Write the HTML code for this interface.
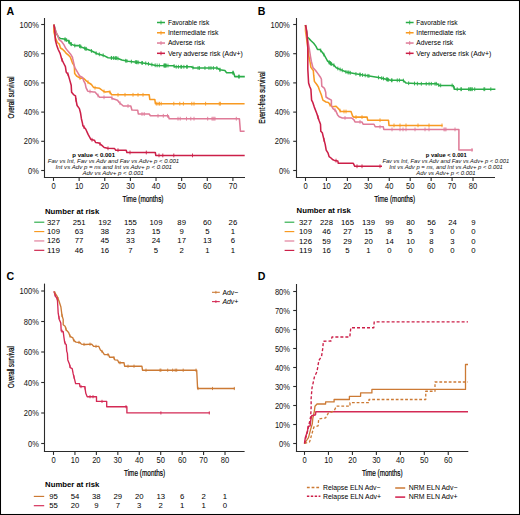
<!DOCTYPE html>
<html><head><meta charset="utf-8"><style>
html,body{margin:0;padding:0;background:#fff;}
svg{display:block;font-family:"Liberation Sans", sans-serif;}
</style></head><body>
<svg width="520" height="515" viewBox="0 0 520 515">
<rect x="0" y="0" width="520" height="515" fill="#fff"/>
<text x="6.50" y="14.50" font-size="10.6" font-weight="700" >A</text>
<line x1="44.50" y1="18.00" x2="44.50" y2="178.00" stroke="#2b2b2b" stroke-width="1.1" />
<line x1="43.95" y1="177.50" x2="245.00" y2="177.50" stroke="#2b2b2b" stroke-width="1.1" />
<line x1="41.20" y1="24.50" x2="44.50" y2="24.50" stroke="#2b2b2b" stroke-width="1.1" />
<text x="38.90" y="27.50" font-size="8.5" text-anchor="end" textLength="19.31" lengthAdjust="spacingAndGlyphs" fill="#111" >100%</text>
<line x1="41.20" y1="53.70" x2="44.50" y2="53.70" stroke="#2b2b2b" stroke-width="1.1" />
<text x="38.90" y="56.70" font-size="8.5" text-anchor="end" textLength="15.11" lengthAdjust="spacingAndGlyphs" fill="#111" >80%</text>
<line x1="41.20" y1="82.90" x2="44.50" y2="82.90" stroke="#2b2b2b" stroke-width="1.1" />
<text x="38.90" y="85.90" font-size="8.5" text-anchor="end" textLength="15.11" lengthAdjust="spacingAndGlyphs" fill="#111" >60%</text>
<line x1="41.20" y1="112.10" x2="44.50" y2="112.10" stroke="#2b2b2b" stroke-width="1.1" />
<text x="38.90" y="115.10" font-size="8.5" text-anchor="end" textLength="15.11" lengthAdjust="spacingAndGlyphs" fill="#111" >40%</text>
<line x1="41.20" y1="141.30" x2="44.50" y2="141.30" stroke="#2b2b2b" stroke-width="1.1" />
<text x="38.90" y="144.30" font-size="8.5" text-anchor="end" textLength="15.11" lengthAdjust="spacingAndGlyphs" fill="#111" >20%</text>
<line x1="41.20" y1="170.50" x2="44.50" y2="170.50" stroke="#2b2b2b" stroke-width="1.1" />
<text x="38.90" y="173.50" font-size="8.5" text-anchor="end" textLength="10.91" lengthAdjust="spacingAndGlyphs" fill="#111" >0%</text>
<line x1="53.50" y1="177.50" x2="53.50" y2="180.90" stroke="#2b2b2b" stroke-width="1.1" />
<text x="53.50" y="189.10" font-size="8.5" text-anchor="middle" textLength="4.23" lengthAdjust="spacingAndGlyphs" fill="#111" >0</text>
<line x1="79.13" y1="177.50" x2="79.13" y2="180.90" stroke="#2b2b2b" stroke-width="1.1" />
<text x="79.13" y="189.10" font-size="8.5" text-anchor="middle" textLength="8.45" lengthAdjust="spacingAndGlyphs" fill="#111" >10</text>
<line x1="104.76" y1="177.50" x2="104.76" y2="180.90" stroke="#2b2b2b" stroke-width="1.1" />
<text x="104.76" y="189.10" font-size="8.5" text-anchor="middle" textLength="8.45" lengthAdjust="spacingAndGlyphs" fill="#111" >20</text>
<line x1="130.39" y1="177.50" x2="130.39" y2="180.90" stroke="#2b2b2b" stroke-width="1.1" />
<text x="130.39" y="189.10" font-size="8.5" text-anchor="middle" textLength="8.45" lengthAdjust="spacingAndGlyphs" fill="#111" >30</text>
<line x1="156.02" y1="177.50" x2="156.02" y2="180.90" stroke="#2b2b2b" stroke-width="1.1" />
<text x="156.02" y="189.10" font-size="8.5" text-anchor="middle" textLength="8.45" lengthAdjust="spacingAndGlyphs" fill="#111" >40</text>
<line x1="181.65" y1="177.50" x2="181.65" y2="180.90" stroke="#2b2b2b" stroke-width="1.1" />
<text x="181.65" y="189.10" font-size="8.5" text-anchor="middle" textLength="8.45" lengthAdjust="spacingAndGlyphs" fill="#111" >50</text>
<line x1="207.28" y1="177.50" x2="207.28" y2="180.90" stroke="#2b2b2b" stroke-width="1.1" />
<text x="207.28" y="189.10" font-size="8.5" text-anchor="middle" textLength="8.45" lengthAdjust="spacingAndGlyphs" fill="#111" >60</text>
<line x1="232.91" y1="177.50" x2="232.91" y2="180.90" stroke="#2b2b2b" stroke-width="1.1" />
<text x="232.91" y="189.10" font-size="8.5" text-anchor="middle" textLength="8.45" lengthAdjust="spacingAndGlyphs" fill="#111" >70</text>
<text x="122.50" y="201.80" font-size="9.2" textLength="41.00" lengthAdjust="spacingAndGlyphs" stroke="#000" stroke-width="0.22">Time (months)</text>
<text x="0.00" y="0.00" font-size="9.5" text-anchor="middle" textLength="42.00" lengthAdjust="spacingAndGlyphs" stroke="#000" stroke-width="0.22" transform="translate(14,97.5) rotate(-90)">Overall survival</text>
<path d="M53.90,24.60 L56.20,33.20 L58.50,37.10 L60.50,38.60 L64.00,39.00 L67.90,40.60 L71.00,44.10 L74.90,45.60 L78.70,45.60 L82.60,47.60 L85.70,48.70 L91.20,50.80 L97.30,53.80 L103.50,55.40 L108.10,57.70 L117.30,58.20 L121.90,60.00 L128.10,61.20 L137.30,62.30 L146.50,63.40 L155.80,65.40 L173.80,65.70 L174.70,66.80 L191.20,66.80 L193.70,68.00 L217.10,68.00 L219.70,69.70 L224.90,70.60 L226.60,72.70 L233.60,72.70 L234.80,76.60 L244.80,76.60" fill="none" stroke="#2aad48" stroke-width="1.55" stroke-linejoin="round" />
<path d="M64.94,37.48V41.28M65.25,37.61V41.41M66.62,38.17V41.97M68.73,39.64V43.44M69.03,39.97V43.77M69.62,40.64V44.44M70.92,42.11V45.91M71.40,42.35V46.15M74.78,43.65V47.45M79.79,44.26V48.06M79.84,44.29V48.09M80.90,44.83V48.63M84.69,46.44V50.24M85.91,46.88V50.68M86.12,46.96V50.76M91.43,49.02V52.82M96.10,51.31V55.11M99.30,52.42V56.22M103.16,53.41V57.21M111.27,55.97V59.77M111.58,55.99V59.79M113.46,56.09V59.89M115.07,56.18V59.98M116.04,56.23V60.03M116.12,56.24V60.04M117.91,56.54V60.34M125.65,58.83V62.63M126.89,59.07V62.87M131.39,59.69V63.49M135.35,60.17V63.97M136.54,60.31V64.11M137.10,60.38V64.18M138.22,60.51V64.31M141.84,60.94V64.74M142.40,61.01V64.81M145.71,61.41V65.21M148.46,61.92V65.72M151.88,62.66V66.46M155.16,63.36V67.16M157.14,63.52V67.32M159.33,63.56V67.36M164.01,63.64V67.44M164.27,63.64V67.44M164.76,63.65V67.45M165.28,63.66V67.46M165.60,63.66V67.46M166.33,63.68V67.48M167.96,63.70V67.50M174.08,64.14V67.94M176.20,64.90V68.70M178.42,64.90V68.70M180.87,64.90V68.70M181.62,64.90V68.70M183.87,64.90V68.70M186.63,64.90V68.70M187.31,64.90V68.70M192.95,65.74V69.54M198.07,66.10V69.90M199.45,66.10V69.90M204.96,66.10V69.90M208.98,66.10V69.90M210.97,66.10V69.90M213.39,66.10V69.90M216.82,66.10V69.90M219.90,67.83V71.63M219.96,67.85V71.65M232.77,70.80V74.60M233.33,70.80V74.60M238.61,74.70V78.50M239.33,74.70V78.50" stroke="#2aad48" stroke-width="0.9" fill="none"/>
<path d="M53.90,24.60 L53.90,31.70 L55.40,37.90 L57.40,42.50 L59.30,44.10 L60.50,48.00 L62.80,49.50 L64.40,51.10 L66.30,53.40 L69.00,55.70 L70.40,57.30 L72.40,62.80 L74.30,65.90 L74.70,73.60 L76.60,76.00 L80.50,78.30 L83.60,78.30 L86.00,80.60 L89.10,83.00 L91.40,84.50 L93.70,87.60 L99.60,88.30 L103.10,91.00 L105.40,92.10 L109.40,91.50 L111.70,94.80 L149.20,94.80 L149.80,99.40 L154.80,99.40 L155.40,103.70 L244.60,103.70" fill="none" stroke="#f89a22" stroke-width="1.55" stroke-linejoin="round" />
<path d="M80.00,76.11V79.91M88.00,80.25V84.05M95.00,85.85V89.65M104.00,89.53V93.33M110.00,90.46V94.26M118.00,92.90V96.70M125.00,92.90V96.70M133.00,92.90V96.70M138.00,92.90V96.70M143.00,92.90V96.70M156.30,101.80V105.60M158.00,101.80V105.60M159.50,101.80V105.60M161.20,101.80V105.60M173.80,101.80V105.60M179.80,101.80V105.60M183.40,101.80V105.60M191.80,101.80V105.60M194.00,101.80V105.60M205.60,101.80V105.60M219.30,101.80V105.60M220.40,101.80V105.60" stroke="#f89a22" stroke-width="0.9" fill="none"/>
<path d="M53.90,24.60 L55.80,31.70 L57.80,35.50 L58.90,39.40 L61.70,41.70 L64.00,44.90 L65.50,48.00 L67.90,51.10 L70.60,54.20 L72.50,57.30 L72.80,58.90 L74.70,67.40 L77.00,71.30 L79.70,76.00 L82.50,77.50 L83.60,80.60 L85.20,83.70 L86.00,87.60 L87.50,90.70 L88.00,91.20 L93.40,91.90 L95.00,92.10 L99.60,97.30 L111.20,97.30 L112.30,98.50 L117.50,100.20 L119.20,102.50 L123.30,106.00 L130.80,106.00 L131.90,110.00 L137.70,110.20 L138.30,114.00 L149.20,114.00 L150.40,115.80 L168.30,115.80 L169.20,118.70 L239.40,118.70 L240.40,131.20 L244.60,131.20" fill="none" stroke="#df7b98" stroke-width="1.55" stroke-linejoin="round" />
<path d="M90.00,89.56V93.36M98.00,93.59V97.39M104.00,95.40V99.20M112.00,96.27V100.07M120.00,101.28V105.08M128.00,104.10V107.90M142.00,112.10V115.90M144.20,112.10V115.90M158.00,113.90V117.70M163.30,113.90V117.70M167.50,113.90V117.70M178.00,116.80V120.60M180.20,116.80V120.60M186.50,116.80V120.60M190.80,116.80V120.60M194.00,116.80V120.60M207.70,116.80V120.60M212.00,116.80V120.60M213.00,116.80V120.60M214.00,116.80V120.60M215.00,116.80V120.60M236.30,116.80V120.60" stroke="#df7b98" stroke-width="0.9" fill="none"/>
<path d="M53.90,24.60 L54.70,30.10 L55.40,40.20 L56.60,44.90 L58.20,49.50 L60.10,53.40 L61.90,59.70 L63.80,63.50 L65.40,66.70 L66.20,72.10 L68.10,74.40 L69.70,79.90 L71.20,85.30 L71.60,92.30 L73.50,94.60 L75.50,95.80 L75.90,99.30 L77.10,105.50 L79.40,108.60 L80.60,113.30 L81.40,118.70 L82.50,123.40 L82.90,125.80 L85.80,129.20 L88.10,134.40 L91.00,139.60 L94.40,140.20 L95.60,142.50 L99.00,143.10 L101.90,145.40 L104.20,147.50 L107.70,148.30 L114.60,148.60 L115.80,150.20 L126.20,150.20 L126.90,152.50 L155.30,152.50 L155.80,155.40 L244.70,155.40" fill="none" stroke="#cc1f48" stroke-width="1.55" stroke-linejoin="round" />
<path d="M62.00,58.00V61.80M68.00,72.38V76.18M76.00,97.92V101.72M84.00,125.19V128.99M92.00,137.88V141.68M100.00,141.99V145.79M108.00,146.41V150.21M118.00,148.30V152.10M130.00,150.60V154.40M146.30,150.60V154.40M159.00,153.50V157.30M162.80,153.50V157.30M173.80,153.50V157.30M192.50,153.50V157.30" stroke="#cc1f48" stroke-width="0.9" fill="none"/>
<line x1="157.00" y1="22.50" x2="165.00" y2="22.50" stroke="#2aad48" stroke-width="1.5" />
<line x1="161.00" y1="20.50" x2="161.00" y2="24.50" stroke="#2aad48" stroke-width="0.9" />
<text x="167.90" y="24.80" font-size="6.8" textLength="41.30" lengthAdjust="spacingAndGlyphs" >Favorable risk</text>
<line x1="157.00" y1="32.77" x2="165.00" y2="32.77" stroke="#f89a22" stroke-width="1.5" />
<line x1="161.00" y1="30.77" x2="161.00" y2="34.77" stroke="#f89a22" stroke-width="0.9" />
<text x="167.90" y="35.07" font-size="6.8" textLength="50.50" lengthAdjust="spacingAndGlyphs" >Intermediate risk</text>
<line x1="157.00" y1="43.04" x2="165.00" y2="43.04" stroke="#df7b98" stroke-width="1.5" />
<line x1="161.00" y1="41.04" x2="161.00" y2="45.04" stroke="#df7b98" stroke-width="0.9" />
<text x="167.90" y="45.34" font-size="6.8" textLength="36.85" lengthAdjust="spacingAndGlyphs" >Adverse risk</text>
<line x1="157.00" y1="53.31" x2="165.00" y2="53.31" stroke="#cc1f48" stroke-width="1.5" />
<line x1="161.00" y1="51.31" x2="161.00" y2="55.31" stroke="#cc1f48" stroke-width="0.9" />
<text x="167.90" y="55.61" font-size="6.8" textLength="74.80" lengthAdjust="spacingAndGlyphs" >Very adverse risk (Adv+)</text>
<text x="72.30" y="156.80" font-size="6.2" font-weight="700" textLength="42.70" lengthAdjust="spacingAndGlyphs" >p value &lt; 0.001</text>
<text x="47.80" y="162.60" font-size="5.9" font-style="italic" textLength="131.40" lengthAdjust="spacingAndGlyphs" fill="#111" >Fav vs Int, Fav vs Adv and Fav vs Adv+ p &lt; 0.001</text>
<text x="55.60" y="168.80" font-size="5.9" font-style="italic" textLength="116.40" lengthAdjust="spacingAndGlyphs" fill="#111" >Int vs Adv p = ns and Int vs Adv+ p &lt; 0.001</text>
<text x="82.40" y="174.80" font-size="5.9" font-style="italic" textLength="61.30" lengthAdjust="spacingAndGlyphs" fill="#111" >Adv vs Adv+ p &lt; 0.001</text>
<text x="45.00" y="213.50" font-size="8.0" font-weight="700" textLength="54.20" lengthAdjust="spacingAndGlyphs" >Number at risk</text>
<line x1="34.20" y1="222.20" x2="44.30" y2="222.20" stroke="#2aad48" stroke-width="1.15" />
<text x="53.50" y="224.70" font-size="7.9" text-anchor="middle" textLength="12.93" lengthAdjust="spacingAndGlyphs" >327</text>
<text x="79.13" y="224.70" font-size="7.9" text-anchor="middle" textLength="12.93" lengthAdjust="spacingAndGlyphs" >251</text>
<text x="104.76" y="224.70" font-size="7.9" text-anchor="middle" textLength="12.93" lengthAdjust="spacingAndGlyphs" >192</text>
<text x="130.39" y="224.70" font-size="7.9" text-anchor="middle" textLength="12.93" lengthAdjust="spacingAndGlyphs" >155</text>
<text x="156.02" y="224.70" font-size="7.9" text-anchor="middle" textLength="12.93" lengthAdjust="spacingAndGlyphs" >109</text>
<text x="181.65" y="224.70" font-size="7.9" text-anchor="middle" textLength="8.62" lengthAdjust="spacingAndGlyphs" >89</text>
<text x="207.28" y="224.70" font-size="7.9" text-anchor="middle" textLength="8.62" lengthAdjust="spacingAndGlyphs" >60</text>
<text x="232.91" y="224.70" font-size="7.9" text-anchor="middle" textLength="8.62" lengthAdjust="spacingAndGlyphs" >26</text>
<line x1="34.20" y1="231.57" x2="44.30" y2="231.57" stroke="#f89a22" stroke-width="1.15" />
<text x="53.50" y="234.07" font-size="7.9" text-anchor="middle" textLength="12.93" lengthAdjust="spacingAndGlyphs" >109</text>
<text x="79.13" y="234.07" font-size="7.9" text-anchor="middle" textLength="8.62" lengthAdjust="spacingAndGlyphs" >63</text>
<text x="104.76" y="234.07" font-size="7.9" text-anchor="middle" textLength="8.62" lengthAdjust="spacingAndGlyphs" >38</text>
<text x="130.39" y="234.07" font-size="7.9" text-anchor="middle" textLength="8.62" lengthAdjust="spacingAndGlyphs" >23</text>
<text x="156.02" y="234.07" font-size="7.9" text-anchor="middle" textLength="8.62" lengthAdjust="spacingAndGlyphs" >15</text>
<text x="181.65" y="234.07" font-size="7.9" text-anchor="middle" textLength="4.31" lengthAdjust="spacingAndGlyphs" >9</text>
<text x="207.28" y="234.07" font-size="7.9" text-anchor="middle" textLength="4.31" lengthAdjust="spacingAndGlyphs" >5</text>
<text x="232.91" y="234.07" font-size="7.9" text-anchor="middle" textLength="4.31" lengthAdjust="spacingAndGlyphs" >1</text>
<line x1="34.20" y1="240.94" x2="44.30" y2="240.94" stroke="#df7b98" stroke-width="1.15" />
<text x="53.50" y="243.44" font-size="7.9" text-anchor="middle" textLength="12.93" lengthAdjust="spacingAndGlyphs" >126</text>
<text x="79.13" y="243.44" font-size="7.9" text-anchor="middle" textLength="8.62" lengthAdjust="spacingAndGlyphs" >77</text>
<text x="104.76" y="243.44" font-size="7.9" text-anchor="middle" textLength="8.62" lengthAdjust="spacingAndGlyphs" >45</text>
<text x="130.39" y="243.44" font-size="7.9" text-anchor="middle" textLength="8.62" lengthAdjust="spacingAndGlyphs" >33</text>
<text x="156.02" y="243.44" font-size="7.9" text-anchor="middle" textLength="8.62" lengthAdjust="spacingAndGlyphs" >24</text>
<text x="181.65" y="243.44" font-size="7.9" text-anchor="middle" textLength="8.62" lengthAdjust="spacingAndGlyphs" >17</text>
<text x="207.28" y="243.44" font-size="7.9" text-anchor="middle" textLength="8.62" lengthAdjust="spacingAndGlyphs" >13</text>
<text x="232.91" y="243.44" font-size="7.9" text-anchor="middle" textLength="4.31" lengthAdjust="spacingAndGlyphs" >6</text>
<line x1="34.20" y1="250.31" x2="44.30" y2="250.31" stroke="#cc1f48" stroke-width="1.15" />
<text x="53.50" y="252.81" font-size="7.9" text-anchor="middle" textLength="12.93" lengthAdjust="spacingAndGlyphs" >119</text>
<text x="79.13" y="252.81" font-size="7.9" text-anchor="middle" textLength="8.62" lengthAdjust="spacingAndGlyphs" >46</text>
<text x="104.76" y="252.81" font-size="7.9" text-anchor="middle" textLength="8.62" lengthAdjust="spacingAndGlyphs" >16</text>
<text x="130.39" y="252.81" font-size="7.9" text-anchor="middle" textLength="4.31" lengthAdjust="spacingAndGlyphs" >7</text>
<text x="156.02" y="252.81" font-size="7.9" text-anchor="middle" textLength="4.31" lengthAdjust="spacingAndGlyphs" >5</text>
<text x="181.65" y="252.81" font-size="7.9" text-anchor="middle" textLength="4.31" lengthAdjust="spacingAndGlyphs" >2</text>
<text x="207.28" y="252.81" font-size="7.9" text-anchor="middle" textLength="4.31" lengthAdjust="spacingAndGlyphs" >1</text>
<text x="232.91" y="252.81" font-size="7.9" text-anchor="middle" textLength="4.31" lengthAdjust="spacingAndGlyphs" >1</text>
<text x="257.80" y="14.70" font-size="10.6" font-weight="700" >B</text>
<line x1="296.50" y1="18.00" x2="296.50" y2="178.00" stroke="#2b2b2b" stroke-width="1.1" />
<line x1="295.95" y1="177.50" x2="495.00" y2="177.50" stroke="#2b2b2b" stroke-width="1.1" />
<line x1="293.20" y1="24.50" x2="296.50" y2="24.50" stroke="#2b2b2b" stroke-width="1.1" />
<text x="289.80" y="27.50" font-size="8.5" text-anchor="end" textLength="19.31" lengthAdjust="spacingAndGlyphs" fill="#111" >100%</text>
<line x1="293.20" y1="53.70" x2="296.50" y2="53.70" stroke="#2b2b2b" stroke-width="1.1" />
<text x="289.80" y="56.70" font-size="8.5" text-anchor="end" textLength="15.11" lengthAdjust="spacingAndGlyphs" fill="#111" >80%</text>
<line x1="293.20" y1="82.90" x2="296.50" y2="82.90" stroke="#2b2b2b" stroke-width="1.1" />
<text x="289.80" y="85.90" font-size="8.5" text-anchor="end" textLength="15.11" lengthAdjust="spacingAndGlyphs" fill="#111" >60%</text>
<line x1="293.20" y1="112.10" x2="296.50" y2="112.10" stroke="#2b2b2b" stroke-width="1.1" />
<text x="289.80" y="115.10" font-size="8.5" text-anchor="end" textLength="15.11" lengthAdjust="spacingAndGlyphs" fill="#111" >40%</text>
<line x1="293.20" y1="141.30" x2="296.50" y2="141.30" stroke="#2b2b2b" stroke-width="1.1" />
<text x="289.80" y="144.30" font-size="8.5" text-anchor="end" textLength="15.11" lengthAdjust="spacingAndGlyphs" fill="#111" >20%</text>
<line x1="293.20" y1="170.50" x2="296.50" y2="170.50" stroke="#2b2b2b" stroke-width="1.1" />
<text x="289.80" y="173.50" font-size="8.5" text-anchor="end" textLength="10.91" lengthAdjust="spacingAndGlyphs" fill="#111" >0%</text>
<line x1="305.50" y1="177.50" x2="305.50" y2="180.90" stroke="#2b2b2b" stroke-width="1.1" />
<text x="305.50" y="189.10" font-size="8.5" text-anchor="middle" textLength="4.23" lengthAdjust="spacingAndGlyphs" fill="#111" >0</text>
<line x1="326.44" y1="177.50" x2="326.44" y2="180.90" stroke="#2b2b2b" stroke-width="1.1" />
<text x="326.44" y="189.10" font-size="8.5" text-anchor="middle" textLength="8.45" lengthAdjust="spacingAndGlyphs" fill="#111" >10</text>
<line x1="347.38" y1="177.50" x2="347.38" y2="180.90" stroke="#2b2b2b" stroke-width="1.1" />
<text x="347.38" y="189.10" font-size="8.5" text-anchor="middle" textLength="8.45" lengthAdjust="spacingAndGlyphs" fill="#111" >20</text>
<line x1="368.32" y1="177.50" x2="368.32" y2="180.90" stroke="#2b2b2b" stroke-width="1.1" />
<text x="368.32" y="189.10" font-size="8.5" text-anchor="middle" textLength="8.45" lengthAdjust="spacingAndGlyphs" fill="#111" >30</text>
<line x1="389.26" y1="177.50" x2="389.26" y2="180.90" stroke="#2b2b2b" stroke-width="1.1" />
<text x="389.26" y="189.10" font-size="8.5" text-anchor="middle" textLength="8.45" lengthAdjust="spacingAndGlyphs" fill="#111" >40</text>
<line x1="410.20" y1="177.50" x2="410.20" y2="180.90" stroke="#2b2b2b" stroke-width="1.1" />
<text x="410.20" y="189.10" font-size="8.5" text-anchor="middle" textLength="8.45" lengthAdjust="spacingAndGlyphs" fill="#111" >50</text>
<line x1="431.14" y1="177.50" x2="431.14" y2="180.90" stroke="#2b2b2b" stroke-width="1.1" />
<text x="431.14" y="189.10" font-size="8.5" text-anchor="middle" textLength="8.45" lengthAdjust="spacingAndGlyphs" fill="#111" >60</text>
<line x1="452.08" y1="177.50" x2="452.08" y2="180.90" stroke="#2b2b2b" stroke-width="1.1" />
<text x="452.08" y="189.10" font-size="8.5" text-anchor="middle" textLength="8.45" lengthAdjust="spacingAndGlyphs" fill="#111" >70</text>
<line x1="473.02" y1="177.50" x2="473.02" y2="180.90" stroke="#2b2b2b" stroke-width="1.1" />
<text x="473.02" y="189.10" font-size="8.5" text-anchor="middle" textLength="8.45" lengthAdjust="spacingAndGlyphs" fill="#111" >80</text>
<text x="374.20" y="202.00" font-size="9.2" textLength="41.00" lengthAdjust="spacingAndGlyphs" stroke="#000" stroke-width="0.22">Time (months)</text>
<text x="0.00" y="0.00" font-size="9.5" text-anchor="middle" textLength="52.40" lengthAdjust="spacingAndGlyphs" stroke="#000" stroke-width="0.22" transform="translate(265.3,97.6) rotate(-90)">Event-free survival</text>
<path d="M305.50,25.00 L307.40,37.10 L309.00,38.60 L311.30,41.00 L313.70,43.30 L316.00,46.40 L317.50,49.50 L319.90,49.50 L322.20,52.20 L324.50,55.50 L327.60,61.20 L330.70,63.50 L333.80,65.10 L336.20,67.80 L340.00,69.40 L346.20,72.00 L355.40,73.80 L363.10,75.10 L370.80,76.20 L380.00,77.70 L386.20,79.20 L390.80,80.30 L403.10,80.30 L406.20,83.10 L420.00,83.80 L436.90,83.80 L439.20,85.40 L453.10,85.40 L454.60,89.20 L495.40,89.20" fill="none" stroke="#2aad48" stroke-width="1.55" stroke-linejoin="round" />
<path d="M320.70,48.54V52.34M323.88,52.71V56.51M329.04,60.37V64.17M329.29,60.55V64.35M330.14,61.18V64.98M330.44,61.40V65.20M330.71,61.60V65.40M331.58,62.06V65.86M333.86,63.27V67.07M337.81,66.58V70.38M340.14,67.56V71.36M342.25,68.44V72.24M345.96,70.00V73.80M347.92,70.44V74.24M348.90,70.63V74.43M350.31,70.90V74.70M355.91,71.99V75.79M359.90,72.66V76.46M360.13,72.70V76.50M362.59,73.11V76.91M365.19,73.50V77.30M367.89,73.88V77.68M368.95,74.04V77.84M378.49,75.55V79.35M381.71,76.21V80.01M383.51,76.65V80.45M386.36,77.34V81.14M387.24,77.55V81.35M387.49,77.61V81.41M388.62,77.88V81.68M391.43,78.40V82.20M392.06,78.40V82.20M397.26,78.40V82.20M399.41,78.40V82.20M403.41,78.68V82.48M408.66,81.33V85.13M414.50,81.62V85.42M417.41,81.77V85.57M421.33,81.90V85.70M426.23,81.90V85.70M429.10,81.90V85.70M431.31,81.90V85.70M435.01,81.90V85.70M436.31,81.90V85.70M438.76,83.20V87.00M440.66,83.50V87.30M452.14,83.50V87.30M454.15,86.17V89.97M457.23,87.30V91.10M460.92,87.30V91.10M461.37,87.30V91.10M468.61,87.30V91.10M469.88,87.30V91.10M470.42,87.30V91.10M471.94,87.30V91.10M472.08,87.30V91.10M474.72,87.30V91.10M483.93,87.30V91.10M484.73,87.30V91.10M490.81,87.30V91.10" stroke="#2aad48" stroke-width="0.9" fill="none"/>
<path d="M305.50,25.00 L305.50,30.90 L307.50,45.00 L308.60,54.20 L308.60,55.00 L310.20,62.80 L310.90,67.40 L313.30,70.50 L313.70,75.20 L314.40,81.40 L316.80,84.50 L318.30,86.80 L319.40,90.00 L321.30,94.70 L322.90,100.10 L326.00,102.00 L328.30,102.40 L330.60,105.50 L332.20,106.70 L336.10,106.30 L338.40,108.60 L340.70,111.50 L351.00,111.50 L352.70,116.20 L353.80,117.10 L367.10,117.10 L367.70,120.20 L388.50,120.20 L389.00,125.40 L442.60,125.40" fill="none" stroke="#f89a22" stroke-width="1.55" stroke-linejoin="round" />
<path d="M330.00,102.79V106.59M340.00,108.72V112.52M344.00,109.60V113.40M346.00,109.60V113.40M356.00,115.20V119.00M362.00,115.20V119.00M380.00,118.30V122.10M394.00,123.50V127.30M400.00,123.50V127.30M406.00,123.50V127.30M418.00,123.50V127.30M429.00,123.50V127.30M442.00,123.50V127.30" stroke="#f89a22" stroke-width="0.9" fill="none"/>
<path d="M305.50,25.00 L307.00,36.00 L309.50,50.00 L310.50,56.50 L311.30,61.20 L312.90,67.40 L315.60,70.50 L317.90,73.60 L320.60,77.50 L321.40,79.10 L321.80,86.10 L324.50,88.40 L325.70,92.30 L326.00,97.00 L328.30,98.50 L331.40,100.10 L331.40,105.50 L333.00,108.60 L335.70,110.60 L337.60,114.90 L339.20,116.80 L342.30,117.90 L351.50,117.90 L353.80,119.60 L355.00,121.90 L361.90,121.90 L363.10,124.20 L374.00,124.20 L375.20,126.80 L383.30,126.80 L383.80,129.40 L458.90,129.40 L458.90,149.90 L472.90,149.90" fill="none" stroke="#df7b98" stroke-width="1.55" stroke-linejoin="round" />
<path d="M335.00,108.18V111.98M345.00,116.00V119.80M360.00,120.00V123.80M380.00,124.90V128.70M392.00,127.50V131.30M400.00,127.50V131.30M403.00,127.50V131.30M406.00,127.50V131.30M415.00,127.50V131.30M425.00,127.50V131.30M429.00,127.50V131.30M444.00,127.50V131.30M445.00,127.50V131.30M446.00,127.50V131.30M455.00,127.50V131.30M472.00,148.00V151.80" stroke="#df7b98" stroke-width="0.9" fill="none"/>
<path d="M305.50,25.00 L306.70,30.90 L307.40,40.20 L307.80,48.00 L307.80,69.00 L308.60,83.00 L309.80,86.80 L310.90,89.20 L311.60,100.10 L312.80,102.40 L314.30,107.10 L316.70,113.30 L319.00,120.30 L320.50,124.20 L320.80,131.30 L322.30,132.80 L323.70,138.60 L325.20,144.40 L326.20,150.20 L328.10,153.20 L329.10,156.60 L331.00,158.00 L332.50,159.50 L334.40,160.40 L337.80,160.90 L338.30,163.30 L353.30,163.30 L354.80,166.30 L382.00,166.30" fill="none" stroke="#cc1f48" stroke-width="1.55" stroke-linejoin="round" />
<path d="M318.00,115.36V119.16M324.00,137.86V141.66M336.00,158.74V162.54M357.00,164.40V168.20M362.00,164.40V168.20M380.00,164.40V168.20" stroke="#cc1f48" stroke-width="0.9" fill="none"/>
<line x1="405.80" y1="22.50" x2="413.60" y2="22.50" stroke="#2aad48" stroke-width="1.5" />
<line x1="409.70" y1="20.50" x2="409.70" y2="24.50" stroke="#2aad48" stroke-width="0.9" />
<text x="416.30" y="24.80" font-size="6.8" textLength="41.30" lengthAdjust="spacingAndGlyphs" >Favorable risk</text>
<line x1="405.80" y1="32.77" x2="413.60" y2="32.77" stroke="#f89a22" stroke-width="1.5" />
<line x1="409.70" y1="30.77" x2="409.70" y2="34.77" stroke="#f89a22" stroke-width="0.9" />
<text x="416.30" y="35.07" font-size="6.8" textLength="49.51" lengthAdjust="spacingAndGlyphs" >Intermediate risk</text>
<line x1="405.80" y1="43.04" x2="413.60" y2="43.04" stroke="#df7b98" stroke-width="1.5" />
<line x1="409.70" y1="41.04" x2="409.70" y2="45.04" stroke="#df7b98" stroke-width="0.9" />
<text x="416.30" y="45.34" font-size="6.8" textLength="36.85" lengthAdjust="spacingAndGlyphs" >Adverse risk</text>
<line x1="405.80" y1="53.31" x2="413.60" y2="53.31" stroke="#cc1f48" stroke-width="1.5" />
<line x1="409.70" y1="51.31" x2="409.70" y2="55.31" stroke="#cc1f48" stroke-width="0.9" />
<text x="416.30" y="55.61" font-size="6.8" textLength="75.00" lengthAdjust="spacingAndGlyphs" >Very adverse risk (Adv+)</text>
<text x="425.80" y="156.80" font-size="6.2" font-weight="700" textLength="41.00" lengthAdjust="spacingAndGlyphs" >p value &lt; 0.001</text>
<text x="382.40" y="162.50" font-size="5.9" font-style="italic" textLength="126.80" lengthAdjust="spacingAndGlyphs" fill="#111" >Fav vs Int, Fav vs Adv and Fav vs Adv+ p &lt; 0.001</text>
<text x="389.20" y="168.80" font-size="5.9" font-style="italic" textLength="113.60" lengthAdjust="spacingAndGlyphs" fill="#111" >Int vs Adv p = ns, and Int vs Adv+ p &lt; 0.001</text>
<text x="416.30" y="174.60" font-size="5.9" font-style="italic" textLength="59.30" lengthAdjust="spacingAndGlyphs" fill="#111" >Adv vs Adv+ p &lt; 0.001</text>
<text x="296.60" y="213.30" font-size="8.0" font-weight="700" textLength="54.20" lengthAdjust="spacingAndGlyphs" >Number at risk</text>
<line x1="284.60" y1="222.20" x2="294.30" y2="222.20" stroke="#2aad48" stroke-width="1.15" />
<text x="305.50" y="224.70" font-size="7.9" text-anchor="middle" textLength="12.93" lengthAdjust="spacingAndGlyphs" >327</text>
<text x="326.50" y="224.70" font-size="7.9" text-anchor="middle" textLength="12.93" lengthAdjust="spacingAndGlyphs" >228</text>
<text x="347.50" y="224.70" font-size="7.9" text-anchor="middle" textLength="12.93" lengthAdjust="spacingAndGlyphs" >165</text>
<text x="368.50" y="224.70" font-size="7.9" text-anchor="middle" textLength="12.93" lengthAdjust="spacingAndGlyphs" >139</text>
<text x="389.50" y="224.70" font-size="7.9" text-anchor="middle" textLength="8.62" lengthAdjust="spacingAndGlyphs" >99</text>
<text x="410.50" y="224.70" font-size="7.9" text-anchor="middle" textLength="8.62" lengthAdjust="spacingAndGlyphs" >80</text>
<text x="431.50" y="224.70" font-size="7.9" text-anchor="middle" textLength="8.62" lengthAdjust="spacingAndGlyphs" >56</text>
<text x="452.50" y="224.70" font-size="7.9" text-anchor="middle" textLength="8.62" lengthAdjust="spacingAndGlyphs" >24</text>
<text x="473.50" y="224.70" font-size="7.9" text-anchor="middle" textLength="4.31" lengthAdjust="spacingAndGlyphs" >9</text>
<line x1="284.60" y1="231.60" x2="294.30" y2="231.60" stroke="#f89a22" stroke-width="1.15" />
<text x="305.50" y="234.10" font-size="7.9" text-anchor="middle" textLength="12.93" lengthAdjust="spacingAndGlyphs" >109</text>
<text x="326.50" y="234.10" font-size="7.9" text-anchor="middle" textLength="8.62" lengthAdjust="spacingAndGlyphs" >46</text>
<text x="347.50" y="234.10" font-size="7.9" text-anchor="middle" textLength="8.62" lengthAdjust="spacingAndGlyphs" >27</text>
<text x="368.50" y="234.10" font-size="7.9" text-anchor="middle" textLength="8.62" lengthAdjust="spacingAndGlyphs" >15</text>
<text x="389.50" y="234.10" font-size="7.9" text-anchor="middle" textLength="4.31" lengthAdjust="spacingAndGlyphs" >8</text>
<text x="410.50" y="234.10" font-size="7.9" text-anchor="middle" textLength="4.31" lengthAdjust="spacingAndGlyphs" >5</text>
<text x="431.50" y="234.10" font-size="7.9" text-anchor="middle" textLength="4.31" lengthAdjust="spacingAndGlyphs" >3</text>
<text x="452.50" y="234.10" font-size="7.9" text-anchor="middle" textLength="4.31" lengthAdjust="spacingAndGlyphs" >0</text>
<text x="473.50" y="234.10" font-size="7.9" text-anchor="middle" textLength="4.31" lengthAdjust="spacingAndGlyphs" >0</text>
<line x1="284.60" y1="241.00" x2="294.30" y2="241.00" stroke="#df7b98" stroke-width="1.15" />
<text x="305.50" y="243.50" font-size="7.9" text-anchor="middle" textLength="12.93" lengthAdjust="spacingAndGlyphs" >126</text>
<text x="326.50" y="243.50" font-size="7.9" text-anchor="middle" textLength="8.62" lengthAdjust="spacingAndGlyphs" >59</text>
<text x="347.50" y="243.50" font-size="7.9" text-anchor="middle" textLength="8.62" lengthAdjust="spacingAndGlyphs" >29</text>
<text x="368.50" y="243.50" font-size="7.9" text-anchor="middle" textLength="8.62" lengthAdjust="spacingAndGlyphs" >20</text>
<text x="389.50" y="243.50" font-size="7.9" text-anchor="middle" textLength="8.62" lengthAdjust="spacingAndGlyphs" >14</text>
<text x="410.50" y="243.50" font-size="7.9" text-anchor="middle" textLength="8.62" lengthAdjust="spacingAndGlyphs" >10</text>
<text x="431.50" y="243.50" font-size="7.9" text-anchor="middle" textLength="4.31" lengthAdjust="spacingAndGlyphs" >8</text>
<text x="452.50" y="243.50" font-size="7.9" text-anchor="middle" textLength="4.31" lengthAdjust="spacingAndGlyphs" >3</text>
<text x="473.50" y="243.50" font-size="7.9" text-anchor="middle" textLength="4.31" lengthAdjust="spacingAndGlyphs" >0</text>
<line x1="284.60" y1="250.40" x2="294.30" y2="250.40" stroke="#cc1f48" stroke-width="1.15" />
<text x="305.50" y="252.90" font-size="7.9" text-anchor="middle" textLength="12.93" lengthAdjust="spacingAndGlyphs" >119</text>
<text x="326.50" y="252.90" font-size="7.9" text-anchor="middle" textLength="8.62" lengthAdjust="spacingAndGlyphs" >16</text>
<text x="347.50" y="252.90" font-size="7.9" text-anchor="middle" textLength="4.31" lengthAdjust="spacingAndGlyphs" >5</text>
<text x="368.50" y="252.90" font-size="7.9" text-anchor="middle" textLength="4.31" lengthAdjust="spacingAndGlyphs" >1</text>
<text x="389.50" y="252.90" font-size="7.9" text-anchor="middle" textLength="4.31" lengthAdjust="spacingAndGlyphs" >0</text>
<text x="410.50" y="252.90" font-size="7.9" text-anchor="middle" textLength="4.31" lengthAdjust="spacingAndGlyphs" >0</text>
<text x="431.50" y="252.90" font-size="7.9" text-anchor="middle" textLength="4.31" lengthAdjust="spacingAndGlyphs" >0</text>
<text x="452.50" y="252.90" font-size="7.9" text-anchor="middle" textLength="4.31" lengthAdjust="spacingAndGlyphs" >0</text>
<text x="473.50" y="252.90" font-size="7.9" text-anchor="middle" textLength="4.31" lengthAdjust="spacingAndGlyphs" >0</text>
<text x="6.60" y="280.00" font-size="10.6" font-weight="700" >C</text>
<line x1="44.50" y1="283.60" x2="44.50" y2="452.00" stroke="#2b2b2b" stroke-width="1.1" />
<line x1="43.95" y1="451.50" x2="244.60" y2="451.50" stroke="#2b2b2b" stroke-width="1.1" />
<line x1="41.20" y1="291.00" x2="44.50" y2="291.00" stroke="#2b2b2b" stroke-width="1.1" />
<text x="38.90" y="294.00" font-size="8.5" text-anchor="end" textLength="19.31" lengthAdjust="spacingAndGlyphs" fill="#111" >100%</text>
<line x1="41.20" y1="321.50" x2="44.50" y2="321.50" stroke="#2b2b2b" stroke-width="1.1" />
<text x="38.90" y="324.50" font-size="8.5" text-anchor="end" textLength="15.11" lengthAdjust="spacingAndGlyphs" fill="#111" >80%</text>
<line x1="41.20" y1="352.00" x2="44.50" y2="352.00" stroke="#2b2b2b" stroke-width="1.1" />
<text x="38.90" y="355.00" font-size="8.5" text-anchor="end" textLength="15.11" lengthAdjust="spacingAndGlyphs" fill="#111" >60%</text>
<line x1="41.20" y1="382.50" x2="44.50" y2="382.50" stroke="#2b2b2b" stroke-width="1.1" />
<text x="38.90" y="385.50" font-size="8.5" text-anchor="end" textLength="15.11" lengthAdjust="spacingAndGlyphs" fill="#111" >40%</text>
<line x1="41.20" y1="413.00" x2="44.50" y2="413.00" stroke="#2b2b2b" stroke-width="1.1" />
<text x="38.90" y="416.00" font-size="8.5" text-anchor="end" textLength="15.11" lengthAdjust="spacingAndGlyphs" fill="#111" >20%</text>
<line x1="41.20" y1="443.50" x2="44.50" y2="443.50" stroke="#2b2b2b" stroke-width="1.1" />
<text x="38.90" y="446.50" font-size="8.5" text-anchor="end" textLength="10.91" lengthAdjust="spacingAndGlyphs" fill="#111" >0%</text>
<line x1="53.50" y1="451.50" x2="53.50" y2="454.90" stroke="#2b2b2b" stroke-width="1.1" />
<text x="53.50" y="463.10" font-size="8.5" text-anchor="middle" textLength="4.23" lengthAdjust="spacingAndGlyphs" fill="#111" >0</text>
<line x1="74.94" y1="451.50" x2="74.94" y2="454.90" stroke="#2b2b2b" stroke-width="1.1" />
<text x="74.94" y="463.10" font-size="8.5" text-anchor="middle" textLength="8.45" lengthAdjust="spacingAndGlyphs" fill="#111" >10</text>
<line x1="96.38" y1="451.50" x2="96.38" y2="454.90" stroke="#2b2b2b" stroke-width="1.1" />
<text x="96.38" y="463.10" font-size="8.5" text-anchor="middle" textLength="8.45" lengthAdjust="spacingAndGlyphs" fill="#111" >20</text>
<line x1="117.82" y1="451.50" x2="117.82" y2="454.90" stroke="#2b2b2b" stroke-width="1.1" />
<text x="117.82" y="463.10" font-size="8.5" text-anchor="middle" textLength="8.45" lengthAdjust="spacingAndGlyphs" fill="#111" >30</text>
<line x1="139.26" y1="451.50" x2="139.26" y2="454.90" stroke="#2b2b2b" stroke-width="1.1" />
<text x="139.26" y="463.10" font-size="8.5" text-anchor="middle" textLength="8.45" lengthAdjust="spacingAndGlyphs" fill="#111" >40</text>
<line x1="160.70" y1="451.50" x2="160.70" y2="454.90" stroke="#2b2b2b" stroke-width="1.1" />
<text x="160.70" y="463.10" font-size="8.5" text-anchor="middle" textLength="8.45" lengthAdjust="spacingAndGlyphs" fill="#111" >50</text>
<line x1="182.14" y1="451.50" x2="182.14" y2="454.90" stroke="#2b2b2b" stroke-width="1.1" />
<text x="182.14" y="463.10" font-size="8.5" text-anchor="middle" textLength="8.45" lengthAdjust="spacingAndGlyphs" fill="#111" >60</text>
<line x1="203.58" y1="451.50" x2="203.58" y2="454.90" stroke="#2b2b2b" stroke-width="1.1" />
<text x="203.58" y="463.10" font-size="8.5" text-anchor="middle" textLength="8.45" lengthAdjust="spacingAndGlyphs" fill="#111" >70</text>
<line x1="225.02" y1="451.50" x2="225.02" y2="454.90" stroke="#2b2b2b" stroke-width="1.1" />
<text x="225.02" y="463.10" font-size="8.5" text-anchor="middle" textLength="8.45" lengthAdjust="spacingAndGlyphs" fill="#111" >80</text>
<text x="124.00" y="475.60" font-size="9.2" textLength="41.20" lengthAdjust="spacingAndGlyphs" stroke="#000" stroke-width="0.22">Time (months)</text>
<text x="0.00" y="0.00" font-size="9.5" text-anchor="middle" textLength="41.80" lengthAdjust="spacingAndGlyphs" stroke="#000" stroke-width="0.22" transform="translate(14,367.1) rotate(-90)">Overall survival</text>
<path d="M53.90,291.40 L57.00,296.10 L58.90,300.80 L60.90,307.00 L62.00,315.50 L63.20,319.40 L63.20,324.70 L65.10,326.20 L66.30,330.10 L68.60,332.40 L70.10,336.30 L72.90,337.90 L73.60,340.20 L76.00,342.10 L79.90,342.50 L81.40,344.10 L85.30,344.50 L91.50,344.10 L93.80,346.40 L98.70,346.30 L100.40,350.00 L102.70,352.10 L104.40,354.60 L108.50,354.60 L109.60,357.20 L113.70,357.20 L114.80,359.80 L117.70,360.20 L118.80,362.70 L124.00,362.70 L124.60,366.20 L141.90,366.20 L142.50,370.20 L196.70,370.20 L197.60,388.50 L234.80,388.50" fill="none" stroke="#cc7a34" stroke-width="1.35" stroke-linejoin="round" />
<path d="M53.90,291.40 L55.40,296.10 L57.40,299.20 L57.80,306.20 L58.20,313.20 L59.30,319.40 L60.80,323.10 L61.20,330.90 L63.20,331.70 L63.90,337.10 L64.70,342.50 L66.30,344.90 L66.70,351.10 L67.40,353.40 L67.80,359.90 L69.30,363.70 L70.30,367.60 L72.20,368.60 L73.20,373.90 L74.60,379.30 L75.60,383.60 L79.50,383.60 L80.00,386.60 L84.80,386.60 L85.80,393.30 L87.20,396.70 L96.50,396.70 L96.50,401.40 L106.70,401.40 L106.70,406.70 L126.90,406.70 L126.90,412.90 L209.80,412.90" fill="none" stroke="#d42a55" stroke-width="1.35" stroke-linejoin="round" />
<path d="M55.00,291.47V294.67M58.00,296.97V300.17M62.00,313.90V317.10M66.00,327.52V330.73M70.00,334.44V337.64M74.00,338.92V342.12M79.00,340.81V344.01M84.00,342.77V345.97M90.00,342.60V345.80M96.00,344.76V347.96M102.00,349.86V353.06M108.00,353.00V356.20M114.00,356.31V359.51M120.00,361.10V364.30M128.00,364.60V367.80M134.00,364.60V367.80M146.00,368.60V371.80M160.00,368.60V371.80M160.90,368.60V371.80M167.70,368.60V371.80M172.70,368.60V371.80M175.20,368.60V371.80M176.70,368.60V371.80M183.20,368.60V371.80M196.00,368.60V371.80M198.00,386.90V390.10M212.50,386.90V390.10M234.30,386.90V390.10" stroke="#cc7a34" stroke-width="0.9" fill="none"/>
<path d="M55.00,293.25V296.45M57.00,296.98V300.18M59.00,316.11V319.31M62.00,329.62V332.82M65.00,341.35V344.55M70.00,364.83V368.03M74.00,375.39V378.59M81.00,385.00V388.20M85.00,386.34V389.54M90.00,395.10V398.30M93.00,395.10V398.30M102.00,399.80V403.00M126.00,405.10V408.30M160.90,411.30V414.50M209.30,411.30V414.50" stroke="#d42a55" stroke-width="0.9" fill="none"/>
<line x1="212.00" y1="292.30" x2="219.80" y2="292.30" stroke="#cc7a34" stroke-width="1.1" />
<line x1="215.90" y1="290.90" x2="215.90" y2="293.70" stroke="#cc7a34" stroke-width="0.9" />
<text x="222.40" y="294.60" font-size="7.6" textLength="15.90" lengthAdjust="spacingAndGlyphs" >Adv−</text>
<line x1="212.00" y1="301.60" x2="219.80" y2="301.60" stroke="#d42a55" stroke-width="1.1" />
<line x1="215.90" y1="300.20" x2="215.90" y2="303.00" stroke="#d42a55" stroke-width="0.9" />
<text font-style="italic" x="222.40" y="303.90" font-size="7.6" textLength="15.90" lengthAdjust="spacingAndGlyphs" >Adv+</text>
<text x="45.10" y="487.00" font-size="8.0" font-weight="700" textLength="54.20" lengthAdjust="spacingAndGlyphs" >Number at risk</text>
<line x1="33.80" y1="496.40" x2="44.20" y2="496.40" stroke="#cc7a34" stroke-width="1.15" />
<text x="53.50" y="498.80" font-size="7.9" text-anchor="middle" textLength="8.62" lengthAdjust="spacingAndGlyphs" >95</text>
<text x="74.94" y="498.80" font-size="7.9" text-anchor="middle" textLength="8.62" lengthAdjust="spacingAndGlyphs" >54</text>
<text x="96.38" y="498.80" font-size="7.9" text-anchor="middle" textLength="8.62" lengthAdjust="spacingAndGlyphs" >38</text>
<text x="117.82" y="498.80" font-size="7.9" text-anchor="middle" textLength="8.62" lengthAdjust="spacingAndGlyphs" >29</text>
<text x="139.26" y="498.80" font-size="7.9" text-anchor="middle" textLength="8.62" lengthAdjust="spacingAndGlyphs" >20</text>
<text x="160.70" y="498.80" font-size="7.9" text-anchor="middle" textLength="8.62" lengthAdjust="spacingAndGlyphs" >13</text>
<text x="182.14" y="498.80" font-size="7.9" text-anchor="middle" textLength="4.31" lengthAdjust="spacingAndGlyphs" >6</text>
<text x="203.58" y="498.80" font-size="7.9" text-anchor="middle" textLength="4.31" lengthAdjust="spacingAndGlyphs" >2</text>
<text x="225.02" y="498.80" font-size="7.9" text-anchor="middle" textLength="4.31" lengthAdjust="spacingAndGlyphs" >1</text>
<line x1="33.80" y1="505.70" x2="44.20" y2="505.70" stroke="#d42a55" stroke-width="1.15" />
<text x="53.50" y="508.10" font-size="7.9" text-anchor="middle" textLength="8.62" lengthAdjust="spacingAndGlyphs" >55</text>
<text x="74.94" y="508.10" font-size="7.9" text-anchor="middle" textLength="8.62" lengthAdjust="spacingAndGlyphs" >20</text>
<text x="96.38" y="508.10" font-size="7.9" text-anchor="middle" textLength="4.31" lengthAdjust="spacingAndGlyphs" >9</text>
<text x="117.82" y="508.10" font-size="7.9" text-anchor="middle" textLength="4.31" lengthAdjust="spacingAndGlyphs" >7</text>
<text x="139.26" y="508.10" font-size="7.9" text-anchor="middle" textLength="4.31" lengthAdjust="spacingAndGlyphs" >3</text>
<text x="160.70" y="508.10" font-size="7.9" text-anchor="middle" textLength="4.31" lengthAdjust="spacingAndGlyphs" >2</text>
<text x="182.14" y="508.10" font-size="7.9" text-anchor="middle" textLength="4.31" lengthAdjust="spacingAndGlyphs" >1</text>
<text x="203.58" y="508.10" font-size="7.9" text-anchor="middle" textLength="4.31" lengthAdjust="spacingAndGlyphs" >1</text>
<text x="225.02" y="508.10" font-size="7.9" text-anchor="middle" textLength="4.31" lengthAdjust="spacingAndGlyphs" >0</text>
<text x="257.80" y="280.00" font-size="10.6" font-weight="700" >D</text>
<line x1="296.50" y1="284.00" x2="296.50" y2="452.00" stroke="#2b2b2b" stroke-width="1.1" />
<line x1="295.95" y1="451.50" x2="468.30" y2="451.50" stroke="#2b2b2b" stroke-width="1.1" />
<line x1="293.20" y1="291.50" x2="296.50" y2="291.50" stroke="#2b2b2b" stroke-width="1.1" />
<text x="290.00" y="294.50" font-size="8.5" text-anchor="end" textLength="15.11" lengthAdjust="spacingAndGlyphs" fill="#111" >80%</text>
<line x1="293.20" y1="310.50" x2="296.50" y2="310.50" stroke="#2b2b2b" stroke-width="1.1" />
<text x="290.00" y="313.50" font-size="8.5" text-anchor="end" textLength="15.11" lengthAdjust="spacingAndGlyphs" fill="#111" >70%</text>
<line x1="293.20" y1="329.50" x2="296.50" y2="329.50" stroke="#2b2b2b" stroke-width="1.1" />
<text x="290.00" y="332.50" font-size="8.5" text-anchor="end" textLength="15.11" lengthAdjust="spacingAndGlyphs" fill="#111" >60%</text>
<line x1="293.20" y1="348.50" x2="296.50" y2="348.50" stroke="#2b2b2b" stroke-width="1.1" />
<text x="290.00" y="351.50" font-size="8.5" text-anchor="end" textLength="15.11" lengthAdjust="spacingAndGlyphs" fill="#111" >50%</text>
<line x1="293.20" y1="367.50" x2="296.50" y2="367.50" stroke="#2b2b2b" stroke-width="1.1" />
<text x="290.00" y="370.50" font-size="8.5" text-anchor="end" textLength="15.11" lengthAdjust="spacingAndGlyphs" fill="#111" >40%</text>
<line x1="293.20" y1="386.50" x2="296.50" y2="386.50" stroke="#2b2b2b" stroke-width="1.1" />
<text x="290.00" y="389.50" font-size="8.5" text-anchor="end" textLength="15.11" lengthAdjust="spacingAndGlyphs" fill="#111" >30%</text>
<line x1="293.20" y1="405.50" x2="296.50" y2="405.50" stroke="#2b2b2b" stroke-width="1.1" />
<text x="290.00" y="408.50" font-size="8.5" text-anchor="end" textLength="15.11" lengthAdjust="spacingAndGlyphs" fill="#111" >20%</text>
<line x1="293.20" y1="424.50" x2="296.50" y2="424.50" stroke="#2b2b2b" stroke-width="1.1" />
<text x="290.00" y="427.50" font-size="8.5" text-anchor="end" textLength="15.11" lengthAdjust="spacingAndGlyphs" fill="#111" >10%</text>
<line x1="293.20" y1="443.50" x2="296.50" y2="443.50" stroke="#2b2b2b" stroke-width="1.1" />
<text x="290.00" y="446.50" font-size="8.5" text-anchor="end" textLength="10.91" lengthAdjust="spacingAndGlyphs" fill="#111" >0%</text>
<line x1="304.50" y1="451.50" x2="304.50" y2="454.90" stroke="#2b2b2b" stroke-width="1.1" />
<text x="304.50" y="463.00" font-size="8.5" text-anchor="middle" textLength="4.23" lengthAdjust="spacingAndGlyphs" fill="#111" >0</text>
<line x1="328.46" y1="451.50" x2="328.46" y2="454.90" stroke="#2b2b2b" stroke-width="1.1" />
<text x="328.46" y="463.00" font-size="8.5" text-anchor="middle" textLength="8.45" lengthAdjust="spacingAndGlyphs" fill="#111" >10</text>
<line x1="352.42" y1="451.50" x2="352.42" y2="454.90" stroke="#2b2b2b" stroke-width="1.1" />
<text x="352.42" y="463.00" font-size="8.5" text-anchor="middle" textLength="8.45" lengthAdjust="spacingAndGlyphs" fill="#111" >20</text>
<line x1="376.38" y1="451.50" x2="376.38" y2="454.90" stroke="#2b2b2b" stroke-width="1.1" />
<text x="376.38" y="463.00" font-size="8.5" text-anchor="middle" textLength="8.45" lengthAdjust="spacingAndGlyphs" fill="#111" >30</text>
<line x1="400.34" y1="451.50" x2="400.34" y2="454.90" stroke="#2b2b2b" stroke-width="1.1" />
<text x="400.34" y="463.00" font-size="8.5" text-anchor="middle" textLength="8.45" lengthAdjust="spacingAndGlyphs" fill="#111" >40</text>
<line x1="424.30" y1="451.50" x2="424.30" y2="454.90" stroke="#2b2b2b" stroke-width="1.1" />
<text x="424.30" y="463.00" font-size="8.5" text-anchor="middle" textLength="8.45" lengthAdjust="spacingAndGlyphs" fill="#111" >50</text>
<line x1="448.26" y1="451.50" x2="448.26" y2="454.90" stroke="#2b2b2b" stroke-width="1.1" />
<text x="448.26" y="463.00" font-size="8.5" text-anchor="middle" textLength="8.45" lengthAdjust="spacingAndGlyphs" fill="#111" >60</text>
<text x="361.90" y="475.80" font-size="9.2" textLength="40.70" lengthAdjust="spacingAndGlyphs" stroke="#000" stroke-width="0.22">Time (months)</text>
<path d="M304.50,443.50 L308.50,437.70 L310.70,429.10 L312.30,423.80 L312.80,418.50 L314.40,411.00 L315.00,406.20 L317.00,404.00 L325.60,404.00 L325.60,401.90 L334.10,401.90 L334.10,399.50 L349.40,399.50 L349.40,396.30 L360.60,396.30 L360.60,392.90 L371.90,392.90 L371.90,389.40 L465.50,389.40 L465.50,364.50 L468.00,364.50" fill="none" stroke="#cc7a34" stroke-width="1.3" stroke-linejoin="round" />
<path d="M304.50,443.50 L305.30,437.70 L307.50,431.30 L308.00,426.50 L310.10,425.90 L310.70,420.60 L311.70,415.80 L313.90,415.30 L315.50,414.70 L315.80,411.70 L468.00,411.70" fill="none" stroke="#d42a55" stroke-width="1.45" stroke-linejoin="round" />
<path d="M304.50,443.50 L309.60,441.90 L311.70,434.50 L313.90,427.00 L318.10,425.90 L318.70,419.00 L325.60,417.90 L328.30,413.10 L334.10,411.00 L336.30,406.20 L350.00,406.20 L350.00,402.70 L369.00,402.70 L369.00,399.50 L425.75,399.50 L425.75,391.25 L435.00,391.25 L435.00,382.00 L468.00,382.00" fill="none" stroke="#cc7a34" stroke-width="1.3" stroke-linejoin="round" stroke-dasharray="2.8,1.9"/>
<path d="M304.50,443.50 L306.40,435.50 L308.50,427.00 L310.70,416.30 L311.20,405.70 L311.10,398.80 L312.00,388.00 L314.50,376.70 L317.00,371.60 L318.90,360.30 L321.50,356.50 L322.70,348.90 L323.40,341.30 L331.00,341.00 L332.00,337.00 L349.80,337.00 L350.80,327.70 L373.80,327.70 L374.20,321.90 L468.00,321.90" fill="none" stroke="#cc1f48" stroke-width="1.35" stroke-linejoin="round" stroke-dasharray="3,2"/>
<line x1="306.90" y1="487.50" x2="320.40" y2="487.50" stroke="#cc7a34" stroke-width="1.5" stroke-dasharray="2.8,1.9"/>
<line x1="306.90" y1="496.30" x2="320.40" y2="496.30" stroke="#cc1f48" stroke-width="1.4" stroke-dasharray="2.4,1.5"/>
<text x="323.00" y="490.10" font-size="7.1" textLength="57.50" lengthAdjust="spacingAndGlyphs" >Relapse ELN Adv−</text>
<text x="323.00" y="499.10" font-size="7.1" textLength="58.00" lengthAdjust="spacingAndGlyphs" >Relapse ELN Adv+</text>
<line x1="395.20" y1="488.00" x2="405.20" y2="488.00" stroke="#cc7a34" stroke-width="1.5" />
<line x1="395.20" y1="497.10" x2="405.20" y2="497.10" stroke="#d42a55" stroke-width="1.6" />
<text x="408.70" y="490.00" font-size="7.1" textLength="48.80" lengthAdjust="spacingAndGlyphs" >NRM ELN Adv−</text>
<text x="408.70" y="499.20" font-size="7.1" textLength="48.80" lengthAdjust="spacingAndGlyphs" >NRM ELN Adv+</text>
<rect x="0.5" y="0.5" width="519" height="514" fill="none" stroke="#000" stroke-width="1.05"/>
</svg>
</body></html>
